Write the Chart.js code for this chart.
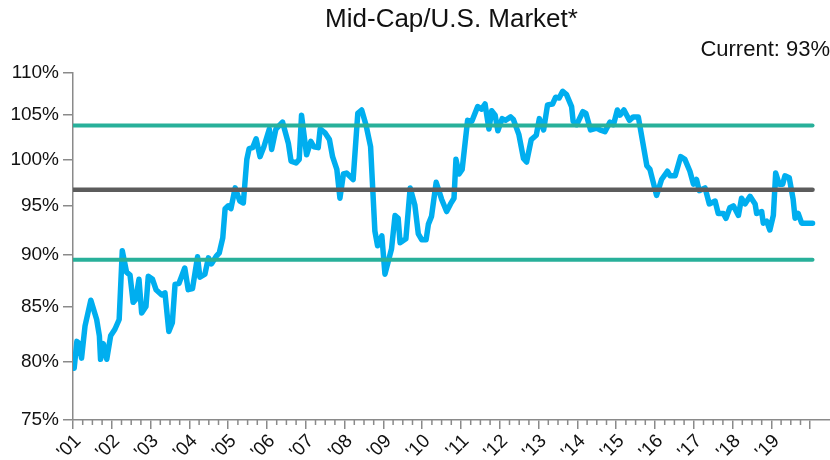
<!DOCTYPE html>
<html>
<head>
<meta charset="utf-8">
<script src="https://cdn.jsdelivr.net/npm/chart.js@4.4.1/dist/chart.umd.min.js"></script>
<style>
html, body { margin: 0; padding: 0; background: #fff; }
</style>
</head>
<body>
<canvas id="myChart" width="830" height="460"></canvas>
<script>
// Datos (fecha en año decimal, ratio en %)
var dates = [
    2001.03, 2001.10, 2001.16, 2001.22, 2001.31, 2001.46, 2001.61, 2001.68, 2001.71, 2001.78, 2001.87, 2001.97,
    2002.08, 2002.19, 2002.27, 2002.38, 2002.47, 2002.55, 2002.62, 2002.70, 2002.77, 2002.88, 2002.94,
    2003.05, 2003.14, 2003.29, 2003.37, 2003.47, 2003.56, 2003.63, 2003.73, 2003.88, 2003.97,
    2004.08, 2004.21, 2004.27, 2004.40, 2004.49, 2004.57, 2004.70, 2004.77, 2004.86, 2004.92,
    2005.00, 2005.07, 2005.18, 2005.30, 2005.39, 2005.48, 2005.54, 2005.63, 2005.72, 2005.82, 2005.92,
    2006.06, 2006.12, 2006.23, 2006.40, 2006.55, 2006.62, 2006.75, 2006.83, 2006.89,
    2007.02, 2007.13, 2007.21, 2007.32, 2007.37, 2007.49, 2007.61, 2007.69, 2007.80, 2007.88, 2007.97,
    2008.05, 2008.22, 2008.34, 2008.44, 2008.55, 2008.67, 2008.78, 2008.85, 2008.96,
    2009.04, 2009.21, 2009.30, 2009.38, 2009.43, 2009.58, 2009.69, 2009.81, 2009.90, 2009.99,
    2010.10, 2010.16, 2010.24, 2010.36, 2010.50, 2010.63, 2010.73, 2010.82, 2010.87, 2010.95,
    2011.03, 2011.17, 2011.28, 2011.43, 2011.53, 2011.62, 2011.72, 2011.79, 2011.88, 2011.95,
    2012.06, 2012.15, 2012.28, 2012.35, 2012.49, 2012.61, 2012.69, 2012.81, 2012.94,
    2013.02, 2013.13, 2013.23, 2013.36, 2013.44, 2013.53, 2013.62, 2013.72, 2013.85, 2013.89, 2013.98,
    2014.14, 2014.22, 2014.34, 2014.50, 2014.58, 2014.71, 2014.84, 2014.93,
    2015.03, 2015.10, 2015.20, 2015.34, 2015.44, 2015.57, 2015.79, 2015.87,
    2016.04, 2016.17, 2016.32, 2016.39, 2016.52, 2016.66, 2016.77, 2016.90, 2016.99,
    2017.07, 2017.14, 2017.29, 2017.40, 2017.55, 2017.63, 2017.76, 2017.83, 2017.93,
    2018.02, 2018.15, 2018.23, 2018.32, 2018.45, 2018.58, 2018.62, 2018.75, 2018.79, 2018.88, 2018.96,
    2019.05, 2019.11, 2019.20, 2019.29, 2019.35, 2019.46, 2019.56, 2019.61, 2019.69, 2019.78, 2020.06
];
var values = [
    79.4, 81.8, 81.6, 80.3, 83.2, 85.6, 83.8, 82.3, 80.2, 81.6, 80.2, 82.3,
    82.9, 83.8, 90.4, 88.3, 88.0, 85.4, 85.7, 87.6, 84.4, 85.0, 87.9,
    87.6, 86.6, 86.1, 86.3, 82.7, 83.5, 87.1, 87.2, 88.7, 86.6,
    86.7, 89.8, 87.8, 88.1, 89.7, 89.1, 89.9, 90.2, 91.7, 94.7,
    95.0, 94.7, 96.9, 95.5, 95.3, 100.0, 101.2, 101.3, 102.3, 100.3, 101.4,
    103.4, 101.1, 103.4, 104.2, 101.8, 99.8, 99.6, 100.0, 105.0,
    100.5, 102.0, 101.4, 101.3, 103.4, 103.0, 102.2, 100.3, 98.9, 95.8, 98.4,
    98.5, 97.8, 105.2, 105.6, 103.9, 101.4, 92.4, 90.9, 91.9,
    88.1, 90.6, 94.0, 93.7, 91.2, 91.6, 96.9, 95.1, 92.1, 91.5,
    91.5, 93.1, 93.9, 97.5, 95.7, 94.4, 95.2, 95.8, 100.0, 98.4,
    98.9, 104.4, 104.3, 106.0, 105.7, 106.3, 103.4, 105.5, 105.0, 103.2,
    104.6, 104.4, 104.8, 104.5, 102.8, 100.1, 99.7, 102.2, 102.7,
    104.6, 103.3, 106.2, 106.3, 107.1, 107.0, 107.8, 107.4, 106.0, 104.3, 103.9,
    105.4, 105.2, 103.3, 103.5, 103.3, 103.1, 104.2, 103.9,
    105.6, 105.0, 105.6, 104.4, 104.8, 104.8, 99.3, 98.9,
    96.1, 97.8, 98.7, 98.2, 98.2, 100.3, 100.0, 98.7, 97.3,
    97.8, 96.6, 96.9, 95.2, 95.5, 94.2, 94.2, 93.7, 94.8,
    95.0, 94.0, 95.8, 95.2, 96.0, 95.2, 94.2, 94.4, 93.2, 93.4, 92.5,
    94.0, 98.5, 97.3, 97.3, 98.2, 98.0, 95.7, 93.7, 94.2, 93.2, 93.2
];

// Media y +/- 1 desviación
var meanValue = 96.7;
var upperBand = 103.8;
var lowerBand = 89.5;

var yTicks = [75, 80, 85, 90, 95, 100, 105, 110];
var yearLabels = ["'01", "'02", "'03", "'04", "'05", "'06", "'07", "'08", "'09", "'10",
                  "'11", "'12", "'13", "'14", "'15", "'16", "'17", "'18", "'19"];
var firstYear = 2001;
var lastYear = 2020;

var titleText = 'Mid-Cap/U.S. Market*';
var currentText = 'Current: 93%';

// Construir puntos
var linePoints = [];
for (var i = 0; i < dates.length; i++) {
    linePoints.push({ x: dates[i], y: values[i] });
}
var startX = firstYear;
var endX = dates[dates.length - 1];
function flatLine(v) {
    return [{ x: startX, y: v }, { x: endX, y: v }];
}

var axisColor = '#8a8a8a';
var fontFamily = '"Liberation Sans", Arial, sans-serif';

// Marcas trimestrales en el eje X
var minorTicks = {
    id: 'minorTicks',
    afterDraw: function (chart) {
        var xs = chart.scales.x;
        var ctx = chart.ctx;
        ctx.save();
        ctx.strokeStyle = axisColor;
        ctx.lineWidth = 1.5;
        ctx.beginPath();
        for (var t = firstYear; t < lastYear; t += 0.25) {
            if (t % 1 === 0) continue;
            var px = xs.getPixelForValue(t);
            ctx.moveTo(px, xs.top);
            ctx.lineTo(px, xs.top + 5);
        }
        ctx.stroke();
        ctx.restore();
    }
};

var ctx = document.getElementById('myChart').getContext('2d');
var myChart = new Chart(ctx, {
    type: 'line',
    data: {
        datasets: [
            {
                data: flatLine(upperBand),
                borderColor: '#28b09a',
                borderWidth: 4,
                borderCapStyle: 'round',
                pointRadius: 0
            },
            {
                data: flatLine(lowerBand),
                borderColor: '#28b09a',
                borderWidth: 4,
                borderCapStyle: 'round',
                pointRadius: 0
            },
            {
                data: flatLine(meanValue),
                borderColor: '#5c5c5c',
                borderWidth: 4.5,
                borderCapStyle: 'round',
                pointRadius: 0
            },
            {
                data: linePoints,
                borderColor: '#00aeef',
                borderWidth: 5.5,
                borderJoinStyle: 'round',
                borderCapStyle: 'round',
                pointRadius: 0,
                tension: 0
            }
        ]
    },
    plugins: [minorTicks],
    options: {
        responsive: false,
        animation: false,
        layout: { padding: 0 },
        plugins: {
            legend: { display: false },
            tooltip: { enabled: false },
            title: {
                display: true,
                text: titleText,
                fullSize: false,
                color: '#111',
                font: { family: fontFamily, size: 26, weight: 'normal', lineHeight: 1.2 },
                padding: { top: 4, bottom: 2 }
            },
            subtitle: {
                display: true,
                text: currentText,
                align: 'end',
                fullSize: false,
                color: '#111',
                font: { family: fontFamily, size: 22, weight: 'normal', lineHeight: 1.2 },
                padding: { top: 0, bottom: 9.4 }
            }
        },
        scales: {
            x: {
                type: 'linear',
                min: firstYear,
                max: firstYear + (830 - 73) / 38.8,
                afterBuildTicks: function (scale) {
                    var t = [];
                    for (var y = firstYear; y <= lastYear; y++) t.push({ value: y });
                    scale.ticks = t;
                },
                afterFit: function (scale) {
                    scale.height = 40;
                    scale.paddingLeft = 0;
                    scale.paddingRight = 0;
                },
                grid: {
                    drawOnChartArea: false,
                    drawTicks: true,
                    tickLength: 9,
                    color: axisColor,
                    lineWidth: 1.5
                },
                border: { display: true, color: axisColor, width: 1.5 },
                ticks: {
                    autoSkip: false,
                    minRotation: 45,
                    maxRotation: 45,
                    padding: 1,
                    labelOffset: 5,
                    color: '#111',
                    font: { family: fontFamily, size: 19 },
                    callback: function (value) {
                        var idx = Math.round(value) - firstYear;
                        return yearLabels[idx] || '';
                    }
                }
            },
            y: {
                type: 'logarithmic',
                min: 75,
                max: 110,
                afterBuildTicks: function (scale) {
                    scale.ticks = yTicks.map(function (v) { return { value: v }; });
                },
                afterFit: function (scale) {
                    scale.width = 73;
                },
                grid: {
                    drawOnChartArea: false,
                    drawTicks: true,
                    tickLength: 10,
                    color: axisColor,
                    lineWidth: 1.5
                },
                border: { display: true, color: axisColor, width: 1.5 },
                ticks: {
                    padding: 4,
                    color: '#111',
                    font: { family: fontFamily, size: 19 },
                    callback: function (value) {
                        return value + '%';
                    }
                }
            }
        }
    }
});
</script>
</body>
</html>
